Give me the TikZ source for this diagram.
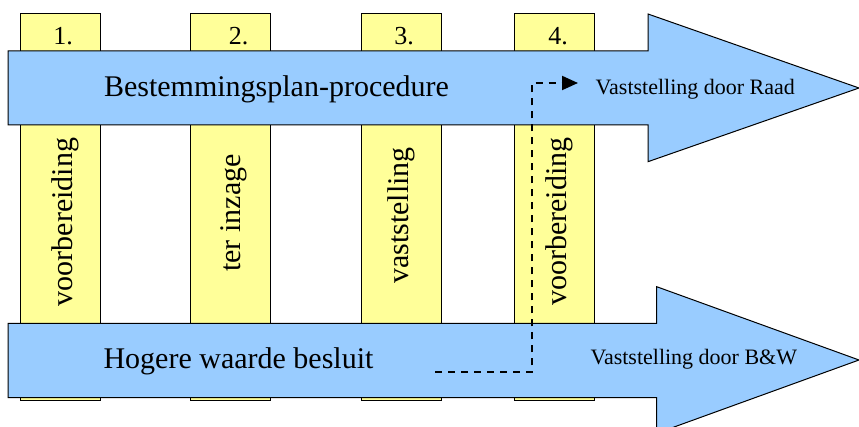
\documentclass[tikz,border=0pt]{standalone}
\usepackage{fontspec}
\setmainfont{Liberation Serif}
\usetikzlibrary{arrows.meta}
\definecolor{colyellow}{HTML}{FFFF99}
\definecolor{arrowblue}{HTML}{99CCFF}
\tikzset{
  colbox/.style={draw=black, fill=colyellow, line width=1pt},
  bigarrow/.style={draw=black, fill=arrowblue, line width=1pt, line join=miter},
  numlabel/.style={font=\fontsize{26}{30}\selectfont, anchor=base, inner sep=0pt},
  vlabel/.style={font=\fontsize{30}{36}\selectfont, anchor=base, rotate=90, inner sep=0pt},
  biglabel/.style={font=\fontsize{30}{36}\selectfont, anchor=base, inner sep=0pt},
  smalllabel/.style={font=\fontsize{22}{26}\selectfont, anchor=base, inner sep=0pt},
  dashlink/.style={draw=black, line width=2pt, dash pattern=on 7pt off 6pt, -{Triangle[length=16pt,width=14pt]}}
}
\begin{document}
\begin{tikzpicture}[x=1pt,y=-1pt]
\useasboundingbox (0,0) rectangle (859,427);
\clip (0,0) rectangle (859,427);
% columns
\path[colbox] (20,14) rectangle (100,400.5);
\path[colbox] (190.7,14) rectangle (270.7,400.5);
\path[colbox] (361,14) rectangle (441,400.5);
\path[colbox] (514.7,14) rectangle (594.3,400.5);
% arrows
\path[bigarrow] (8,51) -- (648,51) -- (648,14) -- (859,88) -- (648,161.7) -- (648,125) -- (8,125) -- cycle;
\path[bigarrow] (8,323.3) -- (656.7,323.3) -- (656.7,286.7) -- (859,360) -- (656.7,433.3) -- (656.7,397.7) -- (8,397.7) -- cycle;
% numbers
\node[numlabel] (n1) at (63,44.3) {1.};
\node[numlabel] (n2) at (238.5,44.3) {2.};
\node[numlabel] (n3) at (404,44.3) {3.};
\node[numlabel] (n4) at (558,44.3) {4.};
% vertical labels
\node[vlabel] (v1) at (72,222) {voorbereiding};
\node[vlabel] (v2) at (240,213) {ter inzage};
\node[vlabel] (v3) at (408.5,215.5) {vaststelling};
\node[vlabel] (v4) at (566.7,221.5) {voorbereiding};
% arrow labels
\node[biglabel] (bp) at (276.5,97) {Bestemmingsplan-procedure};
\node[biglabel] (hw) at (238.5,368.3) {Hogere waarde besluit};
\node[smalllabel] (raad) at (695.3,95) {Vaststelling door Raad};
\node[smalllabel] (bw) at (693.8,364.3) {Vaststelling door B\&W};
% dashed connector
\coordinate (dstart) at (435,372.3);
\coordinate (dcorner1) at (532,372.3);
\coordinate (dcorner2) at (532,83);
\coordinate (dend) at (578,83);
\draw[dashlink] (dstart) -- (dcorner1) -- (dcorner2) -- (dend);
\end{tikzpicture}
\end{document}
